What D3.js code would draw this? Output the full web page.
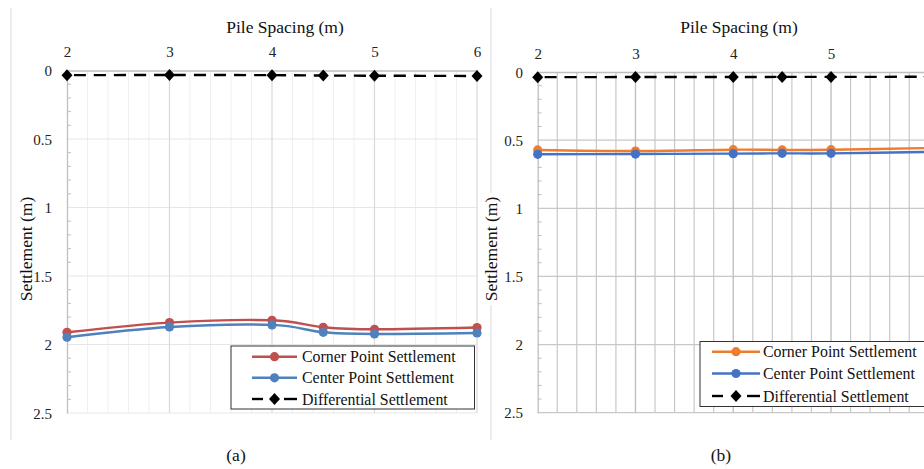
<!DOCTYPE html>
<html>
<head>
<meta charset="utf-8">
<script src="https://cdn.jsdelivr.net/npm/d3@7"></script>
<style>
  html, body { margin: 0; padding: 0; background: #fff; }
  svg { display: block; }
  svg text { font-family: "Liberation Serif", "Times New Roman", serif; }
</style>
</head>
<body>
<svg id="chart" width="924" height="469"></svg>
<script>
// Pile spacing (m) on the top axis
const spacing = [2, 3, 4, 4.5, 5, 6];
const xTicksA = [2, 3, 4, 5, 6];
const xTicksB = [2, 3, 4, 5];
const yTickValues = [0, 0.5, 1, 1.5, 2, 2.5];

// Panel (a) settlements (m)
const cornerA = [1.911, 1.840, 1.823, 1.874, 1.889, 1.876];
const centerA = [1.947, 1.872, 1.857, 1.911, 1.923, 1.916];
const diffA   = [0.034, 0.033, 0.034, 0.037, 0.038, 0.040];

// Panel (b) settlements (m)
const cornerB = [0.572, 0.580, 0.570, 0.572, 0.570, 0.558];
const centerB = [0.604, 0.602, 0.599, 0.597, 0.597, 0.587];
const diffB   = [0.038, 0.037, 0.037, 0.036, 0.036, 0.035];

const seriesNames = ["Corner Point Settlement", "Center Point Settlement", "Differential Settlement"];

const FONT = "'Liberation Serif', 'Times New Roman', serif";
const svg = d3.select("#chart");

const panels = [
  {
    caption: "(a)",
    frameSegments: [[8, 440]], frameX: 11,
    x: [67, 477], y: [70.5, 413],
    xTicks: xTicksA,
    minorColor: "#efefef", majorColor: "#d9d9d9", hColor: "#e6e6e6", gridWidth: 1,
    colors: ["#c0504d", "#4f81bd"],
    data: [cornerA, centerA, diffA],
    titleX: 285, yTitleX: 26, tickRight: 52, tickBase: 57,
    legend: { x: 231, y: 346, w: 243.5, h: 63, rows: [356.7, 377.8, 399], sx: 252, sw: 45, tx: 302 },
    captionX: 236
  },
  {
    caption: "(b)",
    frameSegments: [[8, 193], [305, 440]], frameX: 491,
    x: [537.7, 928.8], y: [72, 412.7],
    xTicks: xTicksB,
    minorColor: "#c8c8c8", majorColor: "#c0c0c0", hColor: "#c8c8c8", gridWidth: 1.2,
    colors: ["#ed7d31", "#4472c4"],
    data: [cornerB, centerB, diffB],
    titleX: 739, yTitleX: 491, tickRight: 523, tickBase: 58.5,
    legend: { x: 700, y: 341.5, w: 260, h: 65, rows: [351.7, 373.5, 396], sx: 712, sw: 48, tx: 763 },
    captionX: 721
  }
];

const diamond = "M0,-6L5.5,0L0,6L-5.5,0Z";

panels.forEach(p => {
  const g = svg.append("g");
  const x = d3.scaleLinear().domain([2, 6]).range(p.x);
  const y = d3.scaleLinear().domain([0, 2.5]).range(p.y);

  // faint border of the chart area
  g.append("g").selectAll("line").data(p.frameSegments).join("line")
    .attr("x1", p.frameX).attr("x2", p.frameX)
    .attr("y1", d => d[0]).attr("y2", d => d[1])
    .attr("stroke", "#d9d9d9").attr("stroke-width", 1);

  // vertical minor gridlines every 0.2 m
  const minor = d3.range(0, 21).map(i => 2 + i * 0.2).filter(v => Math.abs(v - Math.round(v)) > 1e-6);
  g.append("g").selectAll("line").data(minor).join("line")
    .attr("x1", d => x(d)).attr("x2", d => x(d))
    .attr("y1", y(0)).attr("y2", y(2.5))
    .attr("stroke", p.minorColor).attr("stroke-width", p.gridWidth);

  // horizontal major gridlines
  g.append("g").selectAll("line").data(yTickValues.slice(1)).join("line")
    .attr("x1", x(2)).attr("x2", x(6))
    .attr("y1", d => y(d)).attr("y2", d => y(d))
    .attr("stroke", p.hColor).attr("stroke-width", p.gridWidth);

  // vertical major gridlines at whole metres
  g.append("g").selectAll("line").data([3, 4, 5, 6]).join("line")
    .attr("x1", d => x(d)).attr("x2", d => x(d))
    .attr("y1", y(0)).attr("y2", y(2.5))
    .attr("stroke", p.majorColor).attr("stroke-width", p.gridWidth + 0.2);

  // top x axis
  const xAxis = d3.axisTop(x).tickValues(p.xTicks).tickSize(0).tickPadding(0).tickFormat(d3.format("d"));
  const xg = g.append("g").attr("transform", `translate(0,${y(0)})`).call(xAxis)
    .attr("font-family", FONT).attr("font-size", 15);
  xg.select(".domain").attr("stroke", "#bfbfbf").attr("stroke-width", 1.3);
  xg.selectAll("text")
    .attr("y", p.tickBase - y(0)).attr("dy", 0)
    .attr("fill", "#222");

  // left y axis with inward minor ticks every 0.1 m
  const yAxis = d3.axisLeft(y).tickValues(yTickValues).tickSize(0).tickPadding(0)
    .tickFormat(d => d3.format("~g")(d));
  const yg = g.append("g").attr("transform", `translate(${x(2)},0)`).call(yAxis)
    .attr("font-family", FONT).attr("font-size", 15);
  yg.select(".domain").attr("stroke", "#bfbfbf").attr("stroke-width", 1.3);
  yg.selectAll("text")
    .attr("x", p.tickRight - x(2)).attr("dy", "0.34em")
    .attr("fill", "#222");
  const minorY = d3.range(1, 25).map(i => i * 0.1).filter(v => Math.abs(v * 2 - Math.round(v * 2)) > 1e-6);
  g.append("g").selectAll("line").data(minorY).join("line")
    .attr("x1", x(2)).attr("x2", x(2) + 4)
    .attr("y1", d => y(d)).attr("y2", d => y(d))
    .attr("stroke", "#bfbfbf").attr("stroke-width", 1);

  // axis titles
  g.append("text").attr("x", p.titleX).attr("y", 33)
    .attr("text-anchor", "middle").attr("font-size", 17.5).attr("fill", "#111")
    .attr("font-family", FONT)
    .text("Pile Spacing (m)");
  g.append("text")
    .attr("transform", `translate(${p.yTitleX + 6},249) rotate(-90)`)
    .attr("text-anchor", "middle").attr("font-size", 17.5).attr("fill", "#111")
    .attr("font-family", FONT)
    .text("Settlement (m)");

  // series
  const line = d3.line().x(d => x(d[0])).y(d => y(d[1])).curve(d3.curveCardinal.tension(0));
  const plot = g.append("g");
  [0, 1].forEach(i => {
    const pts = spacing.map((s, j) => [s, p.data[i][j]]);
    plot.append("path").attr("d", line(pts))
      .attr("fill", "none").attr("stroke", p.colors[i]).attr("stroke-width", 2.4);
    plot.append("g").selectAll("circle").data(pts).join("circle")
      .attr("cx", d => x(d[0])).attr("cy", d => y(d[1])).attr("r", 4.6)
      .attr("fill", p.colors[i]);
  });
  const dpts = spacing.map((s, j) => [s, p.data[2][j]]);
  plot.append("path").attr("d", line(dpts))
    .attr("fill", "none").attr("stroke", "#000").attr("stroke-width", 2.4)
    .attr("stroke-dasharray", "12,8").attr("stroke-dashoffset", -7);
  plot.append("g").selectAll("path").data(dpts).join("path")
    .attr("d", diamond)
    .attr("transform", d => `translate(${x(d[0])},${y(d[1])})`)
    .attr("fill", "#000");

  // legend
  const L = p.legend;
  const lg = g.append("g");
  lg.append("rect").attr("x", L.x).attr("y", L.y).attr("width", L.w).attr("height", L.h)
    .attr("fill", "#fff").attr("stroke", "#333").attr("stroke-width", 1);
  seriesNames.forEach((name, i) => {
    const cy = L.rows[i];
    const cx = L.sx + L.sw / 2;
    if (i < 2) {
      lg.append("line").attr("x1", L.sx).attr("x2", L.sx + L.sw).attr("y1", cy).attr("y2", cy)
        .attr("stroke", p.colors[i]).attr("stroke-width", 2.4);
      lg.append("circle").attr("cx", cx).attr("cy", cy).attr("r", 4.6).attr("fill", p.colors[i]);
    } else {
      lg.append("line").attr("x1", L.sx).attr("x2", L.sx + 11).attr("y1", cy).attr("y2", cy)
        .attr("stroke", "#000").attr("stroke-width", 2.4);
      lg.append("line").attr("x1", L.sx + L.sw - 13).attr("x2", L.sx + L.sw).attr("y1", cy).attr("y2", cy)
        .attr("stroke", "#000").attr("stroke-width", 2.4);
      lg.append("path").attr("d", diamond).attr("transform", `translate(${cx},${cy})`).attr("fill", "#000");
    }
    lg.append("text").attr("x", L.tx).attr("y", cy).attr("dy", "0.35em")
      .attr("font-family", FONT)
      .attr("font-size", 15.9).attr("fill", "#111").text(name);
  });

  // panel caption
  g.append("text").attr("x", p.captionX).attr("y", 461)
    .attr("text-anchor", "middle").attr("font-size", 17.5).attr("fill", "#111")
    .attr("font-family", FONT)
    .text(p.caption);
});
</script>
</body>
</html>
